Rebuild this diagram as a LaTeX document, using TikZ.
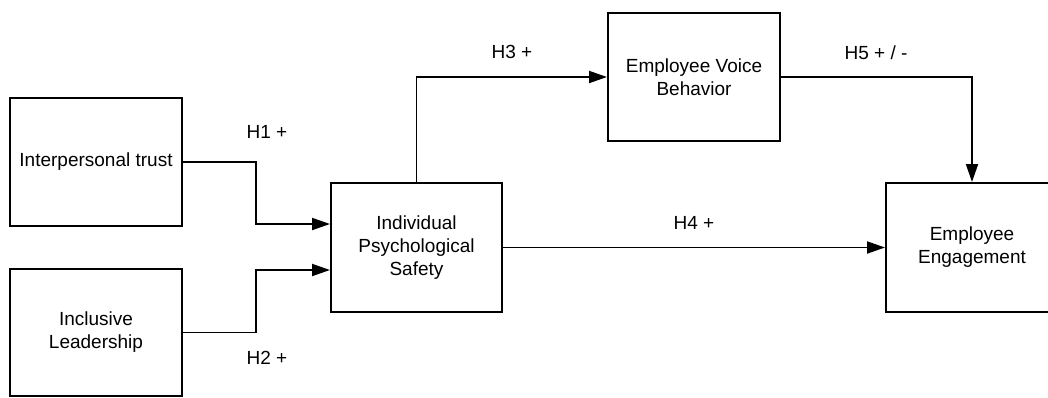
\documentclass[tikz,border=0pt]{standalone}
\usepackage{fontspec}
\setmainfont{Liberation Sans}
\usetikzlibrary{arrows.meta}
\begin{document}
\begin{tikzpicture}[x=1pt,y=-1pt,
  box/.style={draw=black,line width=2pt,minimum width=172pt,minimum height=128pt,inner sep=0pt,align=center,font=\fontsize{19}{23}\selectfont,fill=white},
  lbl/.style={font=\fontsize{19}{23}\selectfont,inner sep=0pt},
  arr/.style={line width=1.9pt,-{Triangle[length=18pt,width=12pt]}}]
\useasboundingbox (0,0) rectangle (1048,397);
\fill[white] (0,0) rectangle (1048,397);
\clip (0,0) rectangle (1048,397);
\node[box] (IT) at (96,162) {Interpersonal trust};
\node[box,minimum height=127pt] (IL) at (96,332.5) {Inclusive\\Leadership};
\node[box,minimum width=171pt,minimum height=129pt] (IPS) at (416.5,247.5) {Individual\\Psychological\\Safety};
\node[box] (EVB) at (694,77) {Employee Voice\\Behavior};
\node[box,minimum height=129pt] (EE) at (972,247.5) {Employee\\Engagement};
\coordinate (k1) at (256,224);
\coordinate (k2) at (256,270);
\draw[arr] (IT.east) -| (k1) -- (IPS.west |- k1);
\draw[arr] (IL.east) -| (k2) -- (IPS.west |- k2);
\draw[arr] (IPS.north) |- (EVB.west);
\draw[arr] (IPS.east) -- (EE.west);
\draw[arr] (EVB.east) -| (EE.north);
\node[lbl] (h1) at (267,132) {H1 +};
\node[lbl] (h2) at (267,358) {H2 +};
\node[lbl] (h3) at (512,52) {H3 +};
\node[lbl] (h4) at (694,223) {H4 +};
\node[lbl] (h5) at (876,53) {H5 + / -};
\end{tikzpicture}
\end{document}
